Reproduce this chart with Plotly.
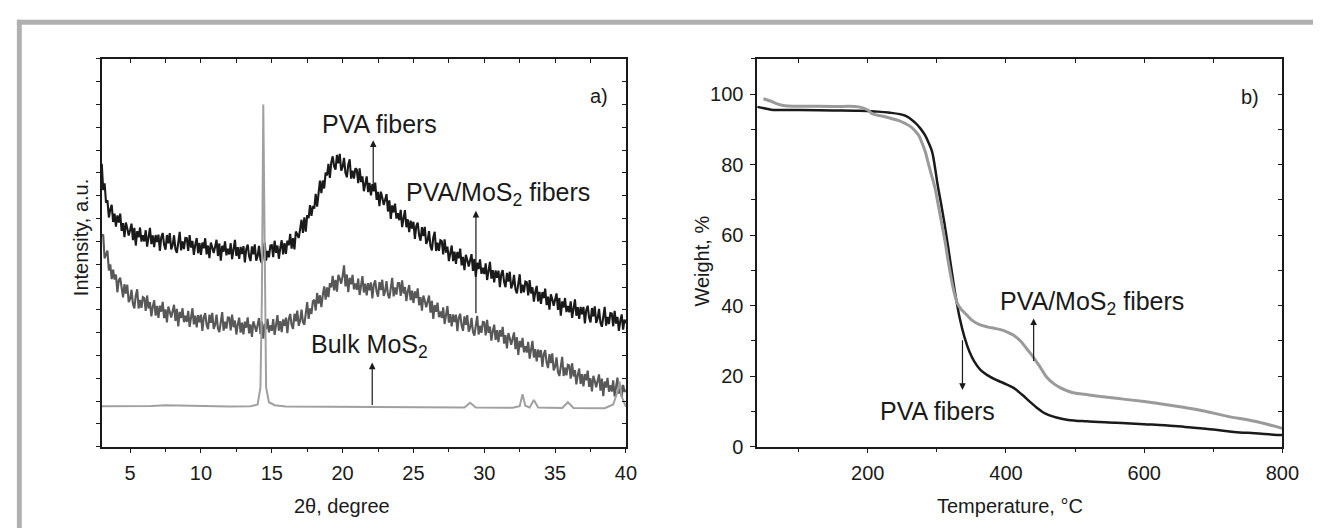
import plotly.graph_objects as go

# ---------------- XRD data (panel a) ----------------
two_theta = [
    3.0, 3.1, 3.2, 3.3, 3.4, 3.5, 3.6, 3.7, 3.8, 3.9,
    4.0, 4.1, 4.2, 4.3, 4.4, 4.5, 4.6, 4.7, 4.8, 4.9,
    5.0, 5.1, 5.2, 5.3, 5.4, 5.5, 5.6, 5.7, 5.8, 5.9,
    6.0, 6.1, 6.2, 6.3, 6.4, 6.5, 6.6, 6.7, 6.8, 6.9,
    7.0, 7.1, 7.2, 7.3, 7.4, 7.5, 7.6, 7.7, 7.8, 7.9,
    8.0, 8.1, 8.2, 8.3, 8.4, 8.5, 8.6, 8.7, 8.8, 8.9,
    9.0, 9.1, 9.2, 9.3, 9.4, 9.5, 9.6, 9.7, 9.8, 9.9,
    10.0, 10.1, 10.2, 10.3, 10.4, 10.5, 10.6, 10.7, 10.8, 10.9,
    11.0, 11.1, 11.2, 11.3, 11.4, 11.5, 11.6, 11.7, 11.8, 11.9,
    12.0, 12.1, 12.2, 12.3, 12.4, 12.5, 12.6, 12.7, 12.8, 12.9,
    13.0, 13.1, 13.2, 13.3, 13.4, 13.5, 13.6, 13.7, 13.8, 13.9,
    14.0, 14.1, 14.2, 14.3, 14.4, 14.5, 14.6, 14.7, 14.8, 14.9,
    15.0, 15.1, 15.2, 15.3, 15.4, 15.5, 15.6, 15.7, 15.8, 15.9,
    16.0, 16.1, 16.2, 16.3, 16.4, 16.5, 16.6, 16.7, 16.8, 16.9,
    17.0, 17.1, 17.2, 17.3, 17.4, 17.5, 17.6, 17.7, 17.8, 17.9,
    18.0, 18.1, 18.2, 18.3, 18.4, 18.5, 18.6, 18.7, 18.8, 18.9,
    19.0, 19.1, 19.2, 19.3, 19.4, 19.5, 19.6, 19.7, 19.8, 19.9,
    20.0, 20.1, 20.2, 20.3, 20.4, 20.5, 20.6, 20.7, 20.8, 20.9,
    21.0, 21.1, 21.2, 21.3, 21.4, 21.5, 21.6, 21.7, 21.8, 21.9,
    22.0, 22.1, 22.2, 22.3, 22.4, 22.5, 22.6, 22.7, 22.8, 22.9,
    23.0, 23.1, 23.2, 23.3, 23.4, 23.5, 23.6, 23.7, 23.8, 23.9,
    24.0, 24.1, 24.2, 24.3, 24.4, 24.5, 24.6, 24.7, 24.8, 24.9,
    25.0, 25.1, 25.2, 25.3, 25.4, 25.5, 25.6, 25.7, 25.8, 25.9,
    26.0, 26.1, 26.2, 26.3, 26.4, 26.5, 26.6, 26.7, 26.8, 26.9,
    27.0, 27.1, 27.2, 27.3, 27.4, 27.5, 27.6, 27.7, 27.8, 27.9,
    28.0, 28.1, 28.2, 28.3, 28.4, 28.5, 28.6, 28.7, 28.8, 28.9,
    29.0, 29.1, 29.2, 29.3, 29.4, 29.5, 29.6, 29.7, 29.8, 29.9,
    30.0, 30.1, 30.2, 30.3, 30.4, 30.5, 30.6, 30.7, 30.8, 30.9,
    31.0, 31.1, 31.2, 31.3, 31.4, 31.5, 31.6, 31.7, 31.8, 31.9,
    32.0, 32.1, 32.2, 32.3, 32.4, 32.5, 32.6, 32.7, 32.8, 32.9,
    33.0, 33.1, 33.2, 33.3, 33.4, 33.5, 33.6, 33.7, 33.8, 33.9,
    34.0, 34.1, 34.2, 34.3, 34.4, 34.5, 34.6, 34.7, 34.8, 34.9,
    35.0, 35.1, 35.2, 35.3, 35.4, 35.5, 35.6, 35.7, 35.8, 35.9,
    36.0, 36.1, 36.2, 36.3, 36.4, 36.5, 36.6, 36.7, 36.8, 36.9,
    37.0, 37.1, 37.2, 37.3, 37.4, 37.5, 37.6, 37.7, 37.8, 37.9,
    38.0, 38.1, 38.2, 38.3, 38.4, 38.5, 38.6, 38.7, 38.8, 38.9,
    39.0, 39.1, 39.2, 39.3, 39.4, 39.5, 39.6, 39.7, 39.8, 39.9,
    40.0,
]

pva_xrd = [
    12.4, 11.25, 11.55, 10.7, 10.8, 10.05, 10.4, 10.6, 9.85, 10.22,
    9.65, 10.14, 9.83, 10.22, 9.46, 9.8, 9.19, 9.83, 9.57, 9.26,
    9.5, 9.78, 9.06, 9.59, 8.82, 9.45, 9.18, 9.61, 8.99, 9.27,
    9.0, 9.49, 8.77, 9.21, 9.59, 8.88, 9.26, 8.75, 9.28, 8.97,
    9.3, 8.59, 9.18, 9.37, 8.85, 8.64, 9.28, 8.92, 9.36, 8.65,
    8.83, 9.27, 8.66, 8.5, 9.12, 9.42, 8.61, 9.0, 8.66, 9.15,
    9.14, 8.58, 9.28, 8.73, 9.02, 8.41, 8.86, 9.15, 8.48, 8.93,
    8.41, 8.95, 8.7, 9.14, 8.43, 8.82, 8.27, 8.95, 8.74, 8.49,
    8.77, 9.07, 8.36, 8.91, 8.16, 8.81, 8.55, 9.0, 8.39, 8.68,
    8.43, 8.92, 8.22, 8.66, 9.07, 8.36, 8.75, 8.24, 8.76, 8.45,
    8.79, 8.08, 8.67, 8.86, 8.35, 8.14, 8.78, 8.43, 8.87, 8.16,
    8.35, 8.8, 8.2, 8.05, 8.65, 8.95, 8.16, 8.58, 8.3, 8.82,
    8.84, 8.31, 9.03, 8.5, 8.82, 8.24, 8.72, 9.05, 8.43, 8.92,
    8.45, 9.04, 8.83, 9.33, 8.68, 9.14, 8.65, 9.43, 9.31, 9.15,
    9.54, 9.95, 9.37, 10.05, 9.43, 10.15, 10.02, 10.59, 10.12, 10.55,
    10.44, 11.08, 10.53, 11.13, 11.67, 11.12, 11.67, 11.32, 12.02, 11.89,
    12.4, 11.78, 12.46, 12.73, 12.29, 12.15, 12.79, 12.42, 12.84, 12.1,
    12.26, 12.66, 12.01, 11.81, 12.36, 12.6, 11.75, 12.1, 11.75, 12.2,
    12.15, 11.55, 12.2, 11.6, 11.85, 11.2, 11.6, 11.85, 11.16, 11.57,
    11.02, 11.51, 11.2, 11.58, 10.82, 11.17, 10.55, 11.18, 10.91, 10.6,
    10.83, 11.07, 10.31, 10.8, 9.99, 10.58, 10.27, 10.66, 10.0, 10.24,
    9.93, 10.38, 9.63, 10.02, 10.37, 9.62, 9.97, 9.41, 9.91, 9.56,
    9.86, 9.11, 9.67, 9.82, 9.27, 9.03, 9.63, 9.23, 9.64, 8.89,
    9.04, 9.45, 8.8, 8.61, 9.17, 9.42, 8.58, 8.94, 8.59, 9.05,
    9.01, 8.43, 9.09, 8.51, 8.77, 8.14, 8.56, 8.82, 8.14, 8.55,
    8.02, 8.54, 8.26, 8.68, 7.95, 8.32, 7.74, 8.41, 8.18, 7.9,
    8.17, 8.44, 7.71, 8.23, 7.45, 8.07, 7.79, 8.21, 7.58, 7.85,
    7.57, 8.04, 7.31, 7.73, 8.1, 7.37, 7.74, 7.21, 7.73, 7.4,
    7.72, 6.99, 7.57, 7.74, 7.22, 6.99, 7.62, 7.24, 7.67, 6.94,
    7.11, 7.53, 6.9, 6.72, 7.29, 7.56, 6.73, 7.1, 6.77, 7.24,
    7.21, 6.63, 7.3, 6.72, 6.99, 6.36, 6.78, 7.05, 6.37, 6.79,
    6.26, 6.78, 6.51, 6.93, 6.21, 6.58, 6.01, 6.68, 6.46, 6.18,
    6.45, 6.72, 6.0, 6.52, 5.75, 6.37, 6.1, 6.52, 5.9, 6.17,
    5.89, 6.37, 5.65, 6.08, 6.46, 5.74, 6.12, 5.6, 6.13, 5.8,
    6.13, 5.41, 5.99, 6.18, 5.66, 5.45, 6.08, 5.71, 6.15, 5.43,
    5.61, 6.04, 5.43, 5.26, 5.84, 6.13, 5.31, 5.69, 5.38, 5.86,
    5.84, 5.28, 5.96, 5.4, 5.69, 5.08, 5.51, 5.8, 5.13, 5.57,
    5.41,
]

pva_mos2_xrd = [
    9.24, 9.3, 8.25, 8.45, 8.6, 7.73, 7.99, 7.35, 7.76, 7.33,
    7.55, 6.77, 7.29, 7.41, 6.83, 6.55, 7.13, 6.71, 7.1, 6.34,
    6.47, 6.88, 6.25, 6.06, 6.63, 6.9, 6.06, 6.43, 6.09, 6.56,
    6.52, 5.95, 6.63, 6.06, 6.34, 5.71, 6.14, 6.42, 5.75, 6.17,
    5.65, 6.18, 5.92, 6.35, 5.64, 6.02, 5.45, 6.14, 5.92, 5.66,
    5.94, 6.22, 5.51, 6.04, 5.27, 5.91, 5.64, 6.07, 5.46, 5.74,
    5.47, 5.96, 5.25, 5.68, 6.07, 5.36, 5.75, 5.23, 5.77, 5.45,
    5.79, 5.08, 5.67, 5.86, 5.35, 5.15, 5.79, 5.43, 5.87, 5.16,
    5.35, 5.79, 5.18, 5.02, 5.61, 5.9, 5.09, 5.48, 5.18, 5.67,
    5.66, 5.1, 5.79, 5.24, 5.53, 4.92, 5.36, 5.66, 5.0, 5.44,
    4.93, 5.48, 5.22, 5.67, 4.97, 5.36, 4.81, 5.5, 5.29, 5.04,
    5.34, 5.64, 4.94, 5.49, 4.74, 5.39, 5.15, 5.6, 5.01, 5.32,
    5.08, 5.59, 4.9, 5.36, 5.77, 5.09, 5.5, 5.02, 5.58, 5.3,
    5.66, 4.98, 5.6, 5.82, 5.34, 5.16, 5.83, 5.5, 5.97, 5.3,
    5.52, 6.01, 5.46, 5.35, 6.0, 6.34, 5.6, 6.06, 5.82, 6.38,
    6.44, 5.97, 6.74, 6.27, 6.64, 6.12, 6.65, 7.03, 6.45, 6.98,
    6.56, 7.17, 6.98, 7.49, 6.85, 7.31, 6.8, 7.53, 7.37, 7.15,
    7.48, 7.95, 7.03, 7.55, 6.78, 7.4, 7.12, 7.53, 6.9, 7.16,
    6.88, 7.37, 6.65, 7.09, 7.48, 6.76, 7.15, 6.64, 7.17, 6.86,
    7.2, 6.5, 7.1, 7.29, 6.79, 6.58, 7.22, 6.87, 7.32, 6.61,
    6.81, 7.26, 6.66, 6.5, 7.1, 7.4, 6.59, 6.98, 6.67, 7.17,
    7.17, 6.61, 7.29, 6.72, 7.0, 6.38, 6.81, 7.09, 6.42, 6.84,
    6.3, 6.81, 6.52, 6.94, 6.2, 6.56, 5.97, 6.63, 6.4, 6.11,
    6.37, 6.63, 5.88, 6.39, 5.6, 6.21, 5.91, 6.32, 5.68, 5.93,
    5.64, 6.11, 5.38, 5.8, 6.17, 5.44, 5.81, 5.28, 5.8, 5.47,
    5.79, 5.07, 5.65, 5.83, 5.31, 5.08, 5.71, 5.34, 5.77, 5.04,
    5.22, 5.65, 5.04, 4.87, 5.45, 5.74, 4.92, 5.3, 4.99, 5.47,
    5.45, 4.88, 5.56, 4.99, 5.27, 4.65, 5.08, 5.35, 4.68, 5.11,
    4.59, 5.11, 4.83, 5.25, 4.52, 4.89, 4.31, 4.98, 4.75, 4.47,
    4.74, 5.01, 4.28, 4.8, 4.02, 4.64, 4.36, 4.77, 4.14, 4.41,
    4.13, 4.6, 3.86, 4.28, 4.64, 3.91, 4.28, 3.74, 4.26, 3.92,
    4.24, 3.5, 4.06, 4.23, 3.69, 3.45, 4.06, 3.67, 4.09, 3.35,
    3.51, 3.92, 3.29, 3.1, 3.67, 3.94, 3.1, 3.47, 3.13, 3.59,
    3.56, 2.98, 3.66, 3.08, 3.36, 2.73, 3.15, 3.43, 2.75, 3.18,
    2.65, 3.18, 2.91, 3.34, 2.62, 3.0, 2.43, 3.11, 2.88, 2.61,
    2.89, 3.17, 2.46, 2.99, 2.22, 2.86, 2.59, 3.02, 2.41, 2.69,
    2.42, 2.91, 2.2, 2.64, 3.03, 2.33, 2.71, 2.19, 2.71, 2.41,
    2.49,
]

bulk_theta = [3.0, 5.0, 6.5, 7.5, 8.5, 10.0, 12.0, 13.5, 14.0, 14.2, 14.3, 14.4,
              14.5, 14.6, 14.8, 15.2, 16.0, 20.0, 25.0, 28.6, 29.0, 29.4, 32.0,
              32.5, 32.7, 32.9, 33.2, 33.5, 33.8, 35.5, 35.9, 36.3, 38.5, 39.1,
              39.4, 39.55, 39.7, 40.0]
bulk_xrd = [1.77, 1.77, 1.79, 1.82, 1.80, 1.77, 1.76, 1.77, 1.85, 2.6, 6.5, 15.0,
            9.0, 2.6, 1.95, 1.82, 1.76, 1.74, 1.73, 1.72, 1.93, 1.72, 1.71,
            1.78, 2.30, 1.80, 1.72, 2.05, 1.72, 1.70, 1.95, 1.70, 1.69, 1.85,
            2.40, 2.85, 2.2, 1.75]

# ---------------- TGA data (panel b) ----------------
pva_temp = [40, 50, 60, 70, 80, 100, 150, 187, 210, 230, 254, 268, 276, 283, 288,
            293, 297, 301, 306, 311, 316, 321, 326, 333, 340, 347, 354, 363, 373,
            385, 397, 411, 423, 436, 445, 454, 463, 473, 490, 516, 560, 600, 630,
            659, 700, 730, 760, 797, 800]
pva_weight = [96.4, 96.0, 95.6, 95.5, 95.5, 95.5, 95.4, 95.3, 95.1, 94.8, 93.9,
              92.0, 90.3, 88.3, 86.2, 83.7, 79.5, 74.4, 69.0, 63.3, 57.0, 50.4,
              44.0, 36.5, 31.0, 27.0, 24.2, 21.8, 20.3, 19.0, 18.0, 16.7, 14.8,
              12.5, 11.0, 9.7, 8.9, 8.3, 7.6, 7.2, 6.8, 6.4, 6.1, 5.6, 4.9, 4.2,
              3.8, 3.3, 3.3]

mos2_temp = [49, 60, 70, 80, 100, 150, 187, 200, 207, 220, 230, 245, 254, 262, 268,
             274, 278, 283, 287, 292, 297, 302, 307, 312, 316, 320, 323, 326, 330,
             335, 340, 350, 360, 373, 383, 392, 401, 411, 421, 430, 440, 450, 459,
             469, 479, 488, 497, 520, 540, 570, 600, 630, 659, 690, 721, 760, 800]
mos2_weight = [98.7, 98.0, 97.2, 96.7, 96.6, 96.5, 96.4, 95.5, 94.4, 93.8, 93.3,
               92.5, 91.7, 90.8, 89.7, 88.2, 86.4, 83.8, 80.8, 77.2, 73.6, 68.5,
               63.3, 58.0, 53.0, 48.5, 45.5, 43.0, 40.5, 39.0, 38.0, 36.0, 34.8,
               34.0, 33.6, 33.2, 32.6, 31.6, 30.0, 27.8, 25.3, 22.4, 19.7, 17.9,
               16.7, 15.9, 15.3, 14.7, 14.2, 13.5, 12.8, 12.0, 11.1, 10.0, 8.6,
               7.2, 5.2]

FONT = "Liberation Sans, Arial, sans-serif"
INK = "#1a1a1a"

fig = go.Figure()

# panel a traces
fig.add_trace(go.Scatter(x=two_theta, y=pva_xrd, mode="lines",
                         line=dict(color="#1a1a1a", width=2.1), xaxis="x", yaxis="y"))
fig.add_trace(go.Scatter(x=two_theta, y=pva_mos2_xrd, mode="lines",
                         line=dict(color="#585858", width=2.1), xaxis="x", yaxis="y"))
fig.add_trace(go.Scatter(x=bulk_theta, y=bulk_xrd, mode="lines",
                         line=dict(color="#a0a0a0", width=2), xaxis="x", yaxis="y"))
# panel b traces
fig.add_trace(go.Scatter(x=pva_temp, y=pva_weight, mode="lines", line_shape="spline",
                         line=dict(color="#1a1a1a", width=2.5), xaxis="x2", yaxis="y2"))
fig.add_trace(go.Scatter(x=mos2_temp, y=mos2_weight, mode="lines", line_shape="spline",
                         line=dict(color="#9a9a9a", width=3), xaxis="x2", yaxis="y2"))
# placeholder traces so the mirrored inner-tick axes are drawn
fig.add_trace(go.Scatter(x=[None], y=[None], xaxis="x3", yaxis="y3", hoverinfo="skip"))
fig.add_trace(go.Scatter(x=[None], y=[None], xaxis="x4", yaxis="y4", hoverinfo="skip"))

dom_a = [95 / 1322, 626 / 1322]
dom_b = [759 / 1322, 1291 / 1322]
dom_y = [1 - 448 / 531, 1 - 52 / 531]

common = dict(showgrid=False, zeroline=False, showline=True, linecolor=INK,
              linewidth=1.5, mirror=True, tickcolor=INK, tickwidth=1.2,
              tickfont=dict(family=FONT, size=20, color=INK))

fig.update_layout(
    width=1322, height=531,
    margin=dict(l=0, r=0, t=0, b=0),
    paper_bgcolor="white", plot_bgcolor="white",
    showlegend=False, hovermode=False,
    xaxis=dict(domain=dom_a, anchor="y", range=[3, 40], tick0=5, dtick=5,
               ticks="outside", ticklen=5, ticklabelstandoff=3,
               minor=dict(dtick=2.5, tick0=5, ticks="outside", ticklen=4,
                          tickcolor=INK, tickwidth=1.2), **common),
    yaxis=dict(domain=dom_y, anchor="x", range=[0, 17], dtick=1, ticks="outside",
               ticklen=4, showticklabels=False, **common),
    xaxis2=dict(domain=dom_b, anchor="y2", range=[40, 800], tick0=0, dtick=200,
                ticks="outside", ticklen=5, ticklabelstandoff=3,
                minor=dict(dtick=100, tick0=0, ticks="outside", ticklen=4,
                           tickcolor=INK, tickwidth=1.2), **common),
    yaxis2=dict(domain=dom_y, anchor="x2", range=[0, 110], tick0=0, dtick=20,
                ticks="outside", ticklen=5, ticklabelstandoff=3,
                minor=dict(dtick=10, tick0=0, ticks="outside", ticklen=4,
                           tickcolor=INK, tickwidth=1.2), **common),
    xaxis3=dict(overlaying="x", side="top", anchor="y", range=[3, 40], tick0=5,
                dtick=2.5, ticks="inside", ticklen=4, tickcolor=INK, tickwidth=1.2,
                showticklabels=False, showgrid=False, zeroline=False, showline=False),
    yaxis3=dict(overlaying="y", side="right", anchor="x", range=[0, 17], dtick=1,
                ticks="inside", ticklen=4, tickcolor=INK, tickwidth=1.2,
                showticklabels=False, showgrid=False, zeroline=False, showline=False),
    xaxis4=dict(overlaying="x2", side="top", anchor="y2", range=[40, 800], tick0=0,
                dtick=100, ticks="inside", ticklen=4, tickcolor=INK, tickwidth=1.2,
                showticklabels=False, showgrid=False, zeroline=False, showline=False),
    yaxis4=dict(overlaying="y2", side="right", anchor="x2", range=[0, 110], dtick=10,
                ticks="inside", ticklen=4, tickcolor=INK, tickwidth=1.2,
                showticklabels=False, showgrid=False, zeroline=False, showline=False),
)

# gray frame (decoration)
fig.add_shape(type="rect", xref="paper", yref="paper", x0=9 / 1322, x1=1.0,
              y0=1 - 17 / 531, y1=1 - 12 / 531, fillcolor="#b0b0b0", line_width=0,
              layer="below")
fig.add_shape(type="rect", xref="paper", yref="paper", x0=9 / 1322, x1=14 / 1322,
              y0=0, y1=1 - 12 / 531, fillcolor="#b0b0b0", line_width=0, layer="below")

ann_font = dict(family=FONT, size=25, color=INK)
title_font = dict(family=FONT, size=20, color=INK)


def label(text, x, y, xr, yr, font):
    fig.add_annotation(text=text, x=x, y=y, xref=xr, yref=yr, showarrow=False,
                       xanchor="center", yanchor="middle", font=font)


def arrow(xr, yr, x_tail, y_tail, x_head, y_head):
    fig.add_annotation(text="", x=x_head, y=y_head, ax=x_tail, ay=y_tail,
                       xref=xr, yref=yr, axref=xr, ayref=yr, showarrow=True,
                       arrowhead=2, arrowsize=1.1, arrowwidth=1.2, arrowcolor=INK,
                       standoff=0, startstandoff=0)


# panel a labels
label("PVA fibers", 22.58, 14.16, "x", "y", ann_font)
arrow("x", "y", 22.16, 11.37, 22.16, 13.43)
label("PVA/MoS<sub>2</sub> fibers", 31.0, 11.07, "x", "y", ann_font)
arrow("x", "y", 29.41, 5.79, 29.41, 10.34)
label("Bulk MoS<sub>2</sub>", 21.9, 4.42, "x", "y", ann_font)
arrow("x", "y", 22.09, 1.76, 22.09, 3.69)
label("a)", 38.12, 15.36, "x", "y", title_font)

# panel b labels
label("PVA/MoS<sub>2</sub> fibers", 524, 40.8, "x2", "y2", ann_font)
arrow("x2", "y2", 440, 23.9, 440, 36.4)
label("PVA fibers", 301, 10.0, "x2", "y2", ann_font)
arrow("x2", "y2", 337, 30.6, 337, 16.1)
label("b)", 753, 99.2, "x2", "y2", title_font)

# axis titles
fig.add_annotation(text="Intensity, a.u.", x=74 / 1322, y=1 - 235 / 531, xref="paper",
                   yref="paper", showarrow=False, textangle=-90, xanchor="center",
                   yanchor="middle", font=title_font)
fig.add_annotation(text="Weight, %", x=703 / 1322, y=1 - 258 / 531, xref="paper",
                   yref="paper", showarrow=False, textangle=-90, xanchor="center",
                   yanchor="middle", font=title_font)
fig.add_annotation(text="2θ, degree", x=338 / 1322, y=1 - 509 / 531, xref="paper",
                   yref="paper", showarrow=False, xanchor="center", yanchor="middle",
                   font=title_font)
fig.add_annotation(text="Temperature, °C", x=1015 / 1322, y=1 - 509 / 531,
                   xref="paper", yref="paper", showarrow=False, xanchor="center",
                   yanchor="middle", font=title_font)

fig.write_html("out.html")
